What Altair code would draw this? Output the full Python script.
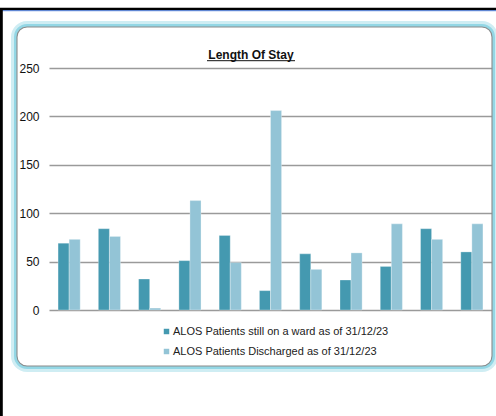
import altair as alt
import pandas as pd

# ---- data ----
categories = ["1", "2", "3", "4", "5", "6", "7", "8", "9", "10", "11"]
series_names = [
    "ALOS Patients still on a ward as of 31/12/23",
    "ALOS Patients Discharged as of 31/12/23",
]
on_ward = [69, 84, 32, 51, 77, 20, 58, 31, 45, 84, 60]
discharged = [73, 76, 2, 113, 49, 206, 42, 59, 89, 73, 89]
y_ticks = [0, 50, 100, 150, 200, 250]

DARK = "#4499b0"
LIGHT = "#93c4d6"
FONT = "Liberation Sans"

rows = []
for c, a, b in zip(categories, on_ward, discharged):
    rows.append({"cat": c, "series": series_names[0], "value": a})
    rows.append({"cat": c, "series": series_names[1], "value": b})
df = pd.DataFrame(rows)

one = pd.DataFrame({"k": [0]})

W, H = 443, 242

bars = alt.Chart(df).mark_bar(stroke="white", strokeWidth=0.6, strokeOpacity=0.5).encode(
    x=alt.X("cat:N", sort=categories, axis=None,
            scale=alt.Scale(paddingInner=0.45, paddingOuter=0.225)),
    xOffset=alt.XOffset("series:N", sort=series_names, scale=alt.Scale(paddingInner=0, paddingOuter=0)),
    y=alt.Y("value:Q", title=None,
            scale=alt.Scale(domain=[0, 250], nice=False),
            axis=alt.Axis(values=y_ticks, grid=True, domain=False, ticks=False,
                          gridColor="#9a9a9a", gridWidth=1.3,
                          labelFont=FONT, labelFontSize=12, labelColor="#111",
                          labelPadding=10)),
    color=alt.Color("series:N", sort=series_names,
                    scale=alt.Scale(domain=series_names, range=[DARK, LIGHT]),
                    legend=alt.Legend(orient="none", legendX=112, legendY=258,
                                      title=None, symbolType="square", symbolSize=30,
                                      symbolStrokeWidth=0, labelFont=FONT,
                                      labelFontSize=11, labelColor="#222",
                                      rowPadding=8, labelLimit=400, labelOffset=1)),
)

# decorative frame and card
top_black = alt.Chart(one).mark_rule(color="black", strokeWidth=2.6).encode(
    x=alt.value(-49), x2=alt.value(447), y=alt.value(-59))
top_blue = alt.Chart(one).mark_rule(color="#4a7bd8", strokeWidth=1).encode(
    x=alt.value(-49), x2=alt.value(447), y=alt.value(-57.3))
left_black = alt.Chart(one).mark_rule(color="black", strokeWidth=2.8).encode(
    x=alt.value(-47.6), y=alt.value(-59), y2=alt.value(348))

glow_outer = alt.Chart(one).mark_rect(fillOpacity=0, stroke="#a8dfea", strokeWidth=6,
                                      strokeOpacity=0.55, cornerRadius=13).encode(
    x=alt.value(-35), x2=alt.value(446), y=alt.value(-44), y2=alt.value(301))
glow_inner = alt.Chart(one).mark_rect(fillOpacity=0, stroke="#7fcfe0", strokeWidth=3,
                                      strokeOpacity=0.75, cornerRadius=11.5).encode(
    x=alt.value(-33.5), x2=alt.value(444.5), y=alt.value(-42.5), y2=alt.value(299.5))
card = alt.Chart(one).mark_rect(fillOpacity=0, stroke="#8c8c8c", strokeWidth=1.1,
                                cornerRadius=10).encode(
    x=alt.value(-32), x2=alt.value(443), y=alt.value(-41), y2=alt.value(298))

title = alt.Chart(one).mark_text(text="Length Of Stay", font=FONT, fontSize=12,
                                 fontWeight="bold", color="#111", align="center",
                                 baseline="alphabetic").encode(
    x=alt.value(202), y=alt.value(-9.5))
underline = alt.Chart(one).mark_rule(color="#111", strokeWidth=1).encode(
    x=alt.value(158), x2=alt.value(246), y=alt.value(-7.3))

chart = alt.layer(
    glow_outer, glow_inner, card, top_black, top_blue, left_black,
    bars, title, underline
).properties(
    width=W, height=H,
    autosize=alt.AutoSizeParams(type="none"),
    padding={"left": 49, "top": 68, "right": 4, "bottom": 106},
    background="white",
).configure_view(stroke=None)

chart.save("out.html", embed_options={"renderer": "svg", "actions": False})
